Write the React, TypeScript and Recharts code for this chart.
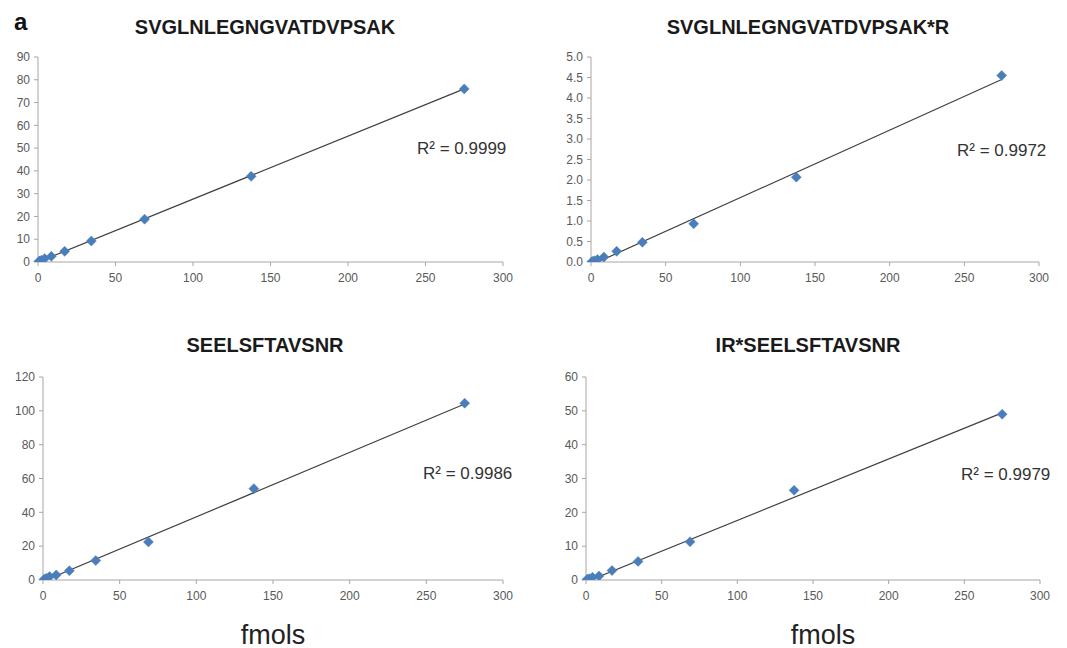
import React from "react";
import { ScatterChart, Scatter, XAxis, YAxis } from "recharts";

// fmol amounts of the dilution series (x values shared by all panels)
const X_FMOLS = [0.54, 1.07, 2.15, 4.3, 8.6, 17.2, 34.4, 68.75, 137.5, 275];

const Y_P1 = [0.2, 0.4, 0.8, 1.5, 2.5, 4.7, 9.2, 18.8, 37.6, 76];
const Y_P2 = [0.005, 0.01, 0.03, 0.06, 0.12, 0.26, 0.48, 0.93, 2.07, 4.55];
const Y_P3 = [0.2, 0.5, 1.0, 2.0, 3.0, 5.5, 11.5, 22.5, 54, 104.5];
const Y_P4 = [0.1, 0.2, 0.4, 0.8, 1.2, 2.8, 5.5, 11.3, 26.5, 49];

// linear trend line end points
const TREND_P1 = [{ x: 0.54, y: 0.1 }, { x: 275, y: 76 }];
const TREND_P2 = [{ x: 4.5, y: 0 }, { x: 275, y: 4.45 }];
const TREND_P3 = [{ x: 2, y: 0 }, { x: 275, y: 104 }];
const TREND_P4 = [{ x: 3, y: 0 }, { x: 275, y: 49.4 }];

const X_TICKS = [0, 50, 100, 150, 200, 250, 300];
const Y_TICKS_P1 = [0, 10, 20, 30, 40, 50, 60, 70, 80, 90];
const Y_TICKS_P2 = [0, 0.5, 1, 1.5, 2, 2.5, 3, 3.5, 4, 4.5, 5];
const Y_TICKS_P3 = [0, 20, 40, 60, 80, 100, 120];
const Y_TICKS_P4 = [0, 10, 20, 30, 40, 50, 60];

const TITLES = ["SVGLNLEGNGVATDVPSAK", "SVGLNLEGNGVATDVPSAK*R", "SEELSFTAVSNR", "IR*SEELSFTAVSNR"];
const R2_LABELS = ["R² = 0.9999", "R² = 0.9972", "R² = 0.9986", "R² = 0.9979"];

const FONT = "'Liberation Sans', Arial, sans-serif";
const AXIS = "#a6a6a6";
const TICK_TEXT = "#595959";
const MARKER = "#4a7ebb";

const toPoints = (ys: number[]) => X_FMOLS.map((x, i) => ({ x, y: ys[i] }));

const Diamond = (props: any) => {
  const { cx, cy } = props;
  if (cx == null || cy == null) return <g />;
  const r = 5;
  return (
    <polygon
      points={`${cx},${cy - r} ${cx + r},${cy} ${cx},${cy + r} ${cx - r},${cy}`}
      fill={MARKER}
      stroke={MARKER}
      strokeWidth={0.5}
    />
  );
};

const NoDot = () => <g />;

type PanelProps = {
  left: number;
  top: number;
  width: number;
  height: number;
  margin: { top: number; right: number; bottom: number; left: number };
  ys: number[];
  trend: { x: number; y: number }[];
  yTicks: number[];
  decimals?: number;
};

function Panel({ left, top, width, height, margin, ys, trend, yTicks, decimals = 0 }: PanelProps) {
  const yMax = yTicks[yTicks.length - 1];
  return (
    <div style={{ position: "absolute", left, top }}>
      <ScatterChart width={width} height={height} margin={margin}>
        <XAxis
          type="number"
          dataKey="x"
          domain={[0, 300]}
          ticks={X_TICKS}
          interval={0}
          height={30}
          tickSize={4}
          tickMargin={7}
          axisLine={{ stroke: AXIS }}
          tickLine={{ stroke: AXIS }}
          tick={{ fill: TICK_TEXT, fontSize: 12, fontFamily: FONT }}
        />
        <YAxis
          type="number"
          dataKey="y"
          domain={[0, yMax]}
          ticks={yTicks}
          interval={0}
          width={30}
          tickSize={4}
          tickMargin={4}
          allowDataOverflow
          axisLine={{ stroke: AXIS }}
          tickLine={{ stroke: AXIS }}
          tick={{ fill: TICK_TEXT, fontSize: 12, fontFamily: FONT }}
          tickFormatter={(v: number) => v.toFixed(decimals)}
        />
        <Scatter
          data={trend}
          line={{ stroke: "#404040", strokeWidth: 1.2 }}
          shape={NoDot}
          isAnimationActive={false}
        />
        <Scatter data={toPoints(ys)} shape={Diamond} isAnimationActive={false} />
      </ScatterChart>
    </div>
  );
}

const textBase: React.CSSProperties = {
  position: "absolute",
  fontFamily: FONT,
  lineHeight: 1,
  whiteSpace: "nowrap",
};

export default function App() {
  return (
    <div style={{ position: "absolute", left: 0, top: 0, width: 1067, height: 648, background: "#fff" }}>
      <Panel left={0} top={0} width={530} height={300}
        margin={{ top: 57, right: 27, bottom: 8, left: 8 }}
        ys={Y_P1} trend={TREND_P1} yTicks={Y_TICKS_P1} />
      <Panel left={530} top={0} width={537} height={300}
        margin={{ top: 57, right: 28, bottom: 8, left: 31 }}
        ys={Y_P2} trend={TREND_P2} yTicks={Y_TICKS_P2} decimals={1} />
      <Panel left={0} top={320} width={530} height={300}
        margin={{ top: 57, right: 27, bottom: 10, left: 13 }}
        ys={Y_P3} trend={TREND_P3} yTicks={Y_TICKS_P3} />
      <Panel left={530} top={320} width={537} height={300}
        margin={{ top: 57, right: 27, bottom: 10, left: 26 }}
        ys={Y_P4} trend={TREND_P4} yTicks={Y_TICKS_P4} />

      <div style={{ ...textBase, left: 14, top: 10, fontSize: 24, fontWeight: 700, color: "#111" }}>a</div>

      {[
        { cx: 265, top: 17 },
        { cx: 808, top: 17 },
        { cx: 265, top: 335 },
        { cx: 808, top: 335 },
      ].map((p, i) => (
        <div key={i} style={{ ...textBase, left: p.cx, top: p.top, transform: "translateX(-50%)", fontSize: 20, fontWeight: 700, color: "#1a1a1a" }}>
          {TITLES[i]}
        </div>
      ))}

      {[
        { left: 417, top: 140 },
        { left: 957, top: 142 },
        { left: 423, top: 465 },
        { left: 961, top: 466 },
      ].map((p, i) => (
        <div key={i} style={{ ...textBase, left: p.left, top: p.top, fontSize: 17, color: "#333" }}>
          {R2_LABELS[i]}
        </div>
      ))}

      <div style={{ ...textBase, left: 273, top: 622, transform: "translateX(-50%)", fontSize: 27, color: "#222" }}>fmols</div>
      <div style={{ ...textBase, left: 823, top: 622, transform: "translateX(-50%)", fontSize: 27, color: "#222" }}>fmols</div>
    </div>
  );
}
